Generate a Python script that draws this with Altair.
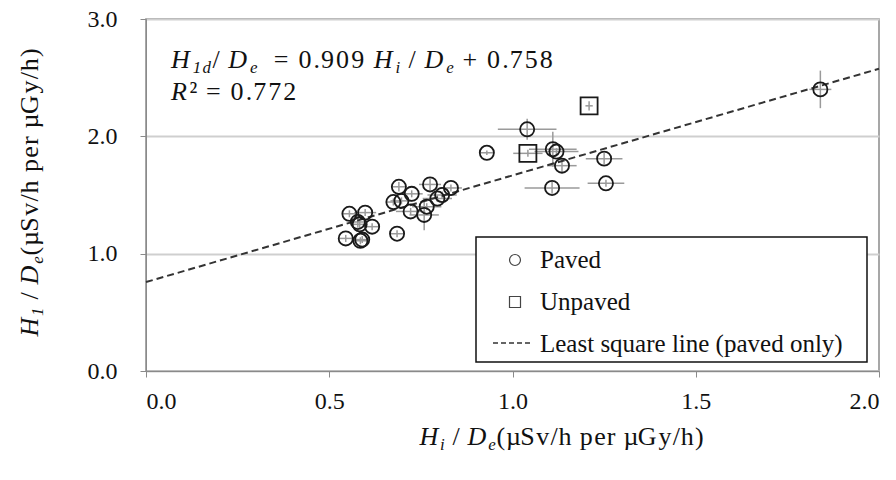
import altair as alt
import pandas as pd

# ---------------- data ----------------
paved_x = [0.545, 0.555, 0.578, 0.583, 0.585, 0.590, 0.598, 0.617, 0.685, 0.675,
           0.690, 0.697, 0.725, 0.722, 0.775, 0.759, 0.766, 0.795, 0.808, 0.832,
           0.930, 1.040, 1.110, 1.120, 1.135, 1.108, 1.250, 1.255, 1.840]
paved_y = [1.13, 1.34, 1.27, 1.25, 1.11, 1.12, 1.35, 1.23, 1.17, 1.44,
           1.57, 1.45, 1.51, 1.36, 1.59, 1.33, 1.40, 1.47, 1.50, 1.56,
           1.86, 2.06, 1.89, 1.87, 1.75, 1.56, 1.81, 1.60, 2.40]
paved_xerr = [0.02, 0.02, 0.02, 0.02, 0.02, 0.02, 0.03, 0.02, 0.02, 0.02,
              0.02, 0.03, 0.03, 0.04, 0.03, 0.04, 0.04, 0.04, 0.04, 0.03,
              0.02, 0.08, 0.065, 0.06, 0.04, 0.075, 0.05, 0.05, 0.03]
paved_yerr = [0.03, 0.03, 0.05, 0.03, 0.03, 0.03, 0.03, 0.03, 0.03, 0.03,
              0.04, 0.03, 0.03, 0.03, 0.05, 0.13, 0.03, 0.03, 0.03, 0.03,
              0.02, 0.09, 0.15, 0.03, 0.06, 0.05, 0.05, 0.03, 0.16]

unpaved_x = [1.042, 1.209]
unpaved_y = [1.855, 2.26]
unpaved_xerr = [0.04, 0.01]
unpaved_yerr = [0.03, 0.04]

fit_x = [0.0, 2.0]
fit_y = [0.758, 2.576]   # 0.909 x + 0.758 at the ends

x_ticks = [0.0, 0.5, 1.0, 1.5, 2.0]
y_ticks = [0.0, 1.0, 2.0, 3.0]

# ---------------- tables ----------------
pts = pd.DataFrame({
    "x": paved_x + unpaved_x,
    "y": paved_y + unpaved_y,
    "xe": paved_xerr + unpaved_xerr,
    "ye": paved_yerr + unpaved_yerr,
    "type": ["Paved"] * len(paved_x) + ["Unpaved"] * len(unpaved_x),
})
pts["x_lo"] = pts["x"] - pts["xe"]
pts["x_hi"] = pts["x"] + pts["xe"]
pts["y_lo"] = pts["y"] - pts["ye"]
pts["y_hi"] = pts["y"] + pts["ye"]
fit = pd.DataFrame({"x": fit_x, "y": fit_y})

FONT = "Liberation Serif"
W, H = 733, 352
L, T = 146, 19

xs = alt.Scale(domain=[0, 2], nice=False, zero=False)
ys = alt.Scale(domain=[0, 3], nice=False, zero=False)
xaxis = alt.Axis(values=x_ticks, format=".1f", title="", grid=False, tickSize=6,
                 labelPadding=12, tickColor="#8a8a8a", domainColor="#8a8a8a",
                 labelFont=FONT, labelFontSize=24, labelColor="#111")
yaxis = alt.Axis(values=y_ticks, format=".1f", title="", grid=True, gridColor="#cfcfcf",
                 gridWidth=2, tickSize=6, labelPadding=23, tickColor="#8a8a8a",
                 domainColor="#8a8a8a", labelFont=FONT, labelFontSize=24, labelColor="#111")

ERR = "#9a9a9a"
xerr = alt.Chart(pts).mark_rule(color=ERR, strokeWidth=1.5).encode(
    x=alt.X("x_lo:Q", scale=xs, axis=xaxis), x2="x_hi:Q",
    y=alt.Y("y:Q", scale=ys, axis=yaxis))
yerr = alt.Chart(pts).mark_rule(color=ERR, strokeWidth=1.5).encode(
    x=alt.X("x:Q", scale=xs), y=alt.Y("y_lo:Q", scale=ys), y2="y_hi:Q")
line = alt.Chart(fit).mark_line(color="#333", strokeWidth=2, strokeDash=[7, 4]).encode(
    x=alt.X("x:Q", scale=xs), y=alt.Y("y:Q", scale=ys))
paved = alt.Chart(pts).transform_filter(alt.datum.type == "Paved").mark_point(
    shape="circle", filled=False, color="#1a1a1a", size=200, strokeWidth=1.8, opacity=1).encode(
    x=alt.X("x:Q", scale=xs), y=alt.Y("y:Q", scale=ys))
unpaved = alt.Chart(pts).transform_filter(alt.datum.type == "Unpaved").mark_point(
    shape="square", filled=False, color="#1a1a1a", size=289, strokeWidth=1.8, opacity=1).encode(
    x=alt.X("x:Q", scale=xs), y=alt.Y("y:Q", scale=ys))

# ---------------- rich text helper (per-character placement, slight tracking) ----------------
RW = {' ': 250, '(': 333, ')': 333, '/': 278, '.': 250, '=': 564, '+': 564, 'S': 556,
      'G': 722, 'h': 500, 'p': 500, 'e': 444, 'r': 333, 'v': 500, 'y': 500, 'µ': 500, '²': 300}
IW = {'H': 722, 'D': 722, 'R': 611, 'i': 278, 'e': 444, 'd': 500, '1': 500}
one = pd.DataFrame({"k": [0]})


def cw(c, italic, size):
    tab = IW if italic else RW
    return tab.get(c, 500) * size / 1000.0


def rich(segs, x0, y0, size, k=1.0, angle=0, total_only=False):
    layers, cur = [], 0.0
    for text, italic, sub in segs:
        s = size * 0.65 if sub else size
        for c in text:
            if c != " " and not total_only:
                kw = dict(text=c, align="left", baseline="alphabetic", font=FONT, fontSize=s,
                          fontStyle="italic" if italic else "normal", color="#111",
                          dx=round(cur, 2), dy=round(size * 0.2, 2) if sub else 0)
                if angle:
                    kw["angle"] = angle
                layers.append(alt.Chart(one).mark_text(**kw).encode(
                    x=alt.value(x0), y=alt.value(y0)))
            cur += cw(c, italic, s) * k
    return cur if total_only else layers


eq1 = [("H", True, False), ("1d", True, True), ("/ ", False, False), ("D", True, False),
       ("e", True, True), ("  = 0.909 ", False, False), ("H", True, False), ("i", True, True),
       (" / ", False, False), ("D", True, False), ("e", True, True), (" + 0.758", False, False)]
eq2 = [("R", True, False), ("² = 0.772", False, False)]
xt = [("H", True, False), ("i", True, True), (" / ", False, False), ("D", True, False),
      ("e", True, True), ("(µSv/h per µGy/h)", False, False)]
yt = [("H", True, False), ("1", True, True), (" / ", False, False), ("D", True, False),
      ("e", True, True), ("(µSv/h per µGy/h)", False, False)]

texts = []
texts += rich(eq1, 171 - L, 68 - T, 26, k=1.16)
texts += rich(eq2, 171 - L, 100 - T, 26, k=1.16)
xt_w = rich(xt, 0, 0, 26, k=1.1, total_only=True)
texts += rich(xt, 562 - L - xt_w / 2, 445 - T, 26, k=1.1)
yt_w = rich(yt, 0, 0, 26, k=1.1, total_only=True)
texts += rich(yt, 38 - L, 192 - T + yt_w / 2, 26, k=1.1, angle=270)

# ---------------- legend (drawn by hand) ----------------
LS = 25
box = alt.Chart(one).mark_rect(fill="white", stroke="#111", strokeWidth=1.5).encode(
    x=alt.value(476 - L), x2=alt.value(867 - L), y=alt.value(237 - T), y2=alt.value(362 - T))
leg_c = alt.Chart(one).mark_point(shape="circle", filled=False, color="#444", size=120,
                                  strokeWidth=1.2, opacity=1).encode(
    x=alt.value(515 - L), y=alt.value(260 - T))
leg_s = alt.Chart(one).mark_point(shape="square", filled=False, color="#444", size=121,
                                  strokeWidth=1.2, opacity=1).encode(
    x=alt.value(515 - L), y=alt.value(302 - T))
leg_l = alt.Chart(one).mark_rule(color="#333", strokeWidth=1.5, strokeDash=[5, 3]).encode(
    x=alt.value(493 - L), x2=alt.value(530 - L), y=alt.value(343 - T))
leg_t = [alt.Chart(one).mark_text(text=t, align="left", baseline="alphabetic", font=FONT,
                                  fontSize=LS, color="#111").encode(
    x=alt.value(540 - L), y=alt.value(yy - T))
    for t, yy in [("Paved", 268), ("Unpaved", 310), ("Least square line (paved only)", 352)]]

chart = alt.layer(
    xerr, yerr, line, paved, unpaved, *texts, box, leg_c, leg_s, leg_l, *leg_t
).properties(
    width=W, height=H,
    padding={"left": L, "top": T, "right": 896 - L - W, "bottom": 480 - T - H},
    autosize=alt.AutoSizeParams(type="none"),
    background="white",
).configure_view(stroke="#8a8a8a", strokeWidth=1.5)

chart.save("out.html", embed_options={"renderer": "svg", "actions": False})
